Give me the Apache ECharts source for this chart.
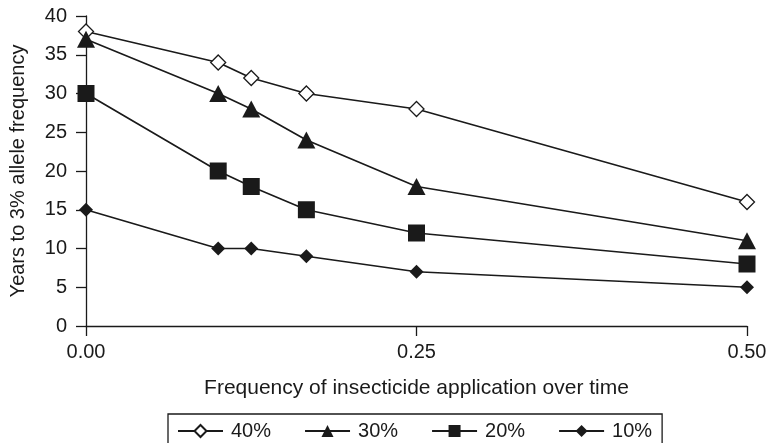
<!DOCTYPE html>
<html>
<head>
<meta charset="utf-8">
<script src="https://cdn.jsdelivr.net/npm/echarts@6/dist/echarts.min.js"></script>
<style>html,body{margin:0;padding:0;background:#fff}#c{width:770px;height:443px}</style>
</head>
<body>
<div id="c"></div>
<script>
const xValues = [0, 0.1, 0.125, 0.1667, 0.25, 0.5];
const s40 = [38, 34, 32, 30, 28, 16];
const s30 = [37, 30, 28, 24, 18, 11];
const s20 = [30, 20, 18, 15, 12, 8];
const s10 = [15, 10, 10, 9, 7, 5];
const seriesNames = ['40%', '30%', '20%', '10%'];

const ink = '#1a1a1a';
const font = 'Liberation Sans, Arial, Helvetica, sans-serif';
function pts(arr){ return arr.map((v,i)=>[xValues[i], v]); }
function mk(name, data, symbol, size, filled){
  return {
    name, type:'line', data: pts(data), symbol, symbolSize: size,
    lineStyle:{color:ink, width:1.7},
    itemStyle:{color: filled ? ink : '#fff', borderColor: ink, borderWidth: filled?0:1.3},
    emphasis:{disabled:true}, animation:false, z: 2
  };
}
const chart = echarts.init(document.getElementById('c'), null, {renderer:'canvas'});
chart.setOption({
  animation:false,
  grid:{left:85, right:23, top:16, bottom:117},
  xAxis:{
    type:'value', min:0, max:0.5, interval:0.25,
    name:'Frequency of insecticide application over time',
    nameLocation:'middle', nameGap:52,
    nameTextStyle:{color:ink, fontSize:21, fontFamily:font},
    axisLine:{show:true, lineStyle:{color:ink, width:1.3}},
    axisTick:{show:true, length:10, lineStyle:{color:ink, width:1.3}},
    axisLabel:{color:ink, fontSize:20, fontFamily:font, margin:16, formatter:v=>v.toFixed(2)},
    splitLine:{show:false}
  },
  yAxis:{
    type:'value', min:0, max:40, interval:5,
    name:'Years to 3% allele frequency',
    nameLocation:'middle', nameGap:58,
    nameTextStyle:{color:ink, fontSize:20, fontFamily:font},
    axisLine:{show:true, lineStyle:{color:ink, width:1.3}},
    axisTick:{show:true, length:10, lineStyle:{color:ink, width:1.3}},
    axisLabel:{color:ink, fontSize:20, fontFamily:font, margin:19},
    splitLine:{show:false}
  },
  legend:{
    data: seriesNames,
    top:414, left:168,
    orient:'horizontal',
    borderColor:ink, borderWidth:1.3, borderRadius:0,
    padding:[7,10,7,9],
    itemGap:33, itemWidth:45, itemHeight:15,
    textStyle:{color:ink, fontSize:20, fontFamily:font, padding:[0,0,0,3]},
  },
  series:[
    mk(seriesNames[0], s40, 'diamond', 15, false),
    mk(seriesNames[1], s30, 'triangle', [18,17], true),
    mk(seriesNames[2], s20, 'rect', 17, true),
    mk(seriesNames[3], s10, 'diamond', 14, true)
  ]
});
</script>
</body>
</html>
